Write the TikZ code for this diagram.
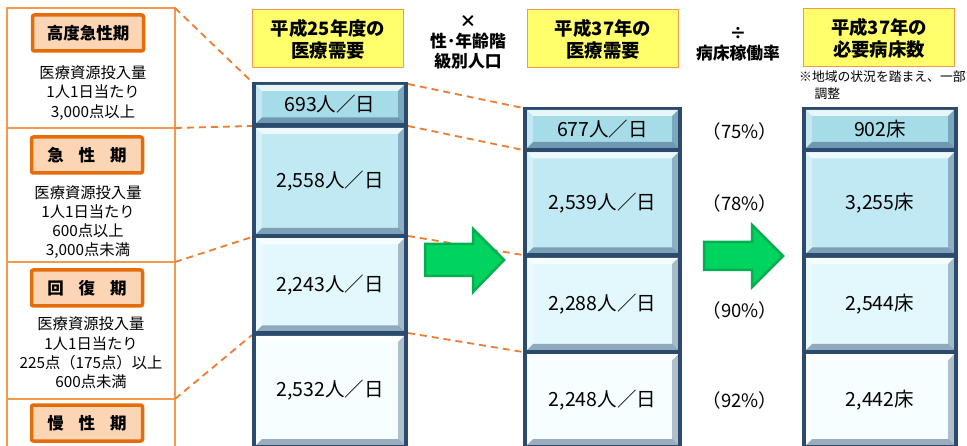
\documentclass[tikz,border=0pt]{standalone}
\usepackage{fontspec}
\setmainfont{Noto Sans CJK JP}
\definecolor{navy}{HTML}{2C4A6E}
\definecolor{orline}{HTML}{F39A4E}
\definecolor{ordash}{HTML}{ED7D31}
\definecolor{lbfill}{HTML}{FCD5B4}
\definecolor{lbedge}{HTML}{E46C0A}
\definecolor{hdfill}{HTML}{FFFF6B}
\definecolor{cA}{HTML}{A6DBE8}
\definecolor{cB}{HTML}{C1E9F3}
\definecolor{cC}{HTML}{E3F8FD}
\definecolor{cD}{HTML}{F6FEFF}
\definecolor{gfill}{HTML}{00D45E}
\definecolor{gedge}{HTML}{00B050}
\newcommand\bevcell[7]{%
  \fill[#6] (#2,#3) rectangle (#4,#5);
  \fill[white,opacity=.75] (#2,#3) -- (#4,#3) -- ({#4-6},{#3+6}) -- ({#2+6},{#3+6}) -- cycle;
  \fill[white,opacity=.35] (#2,#3) -- ({#2+6},{#3+6}) -- ({#2+6},{#5-6}) -- (#2,#5) -- cycle;
  \fill[navy,opacity=.35] (#4,#3) -- ({#4-6},{#3+6}) -- ({#4-6},{#5-6}) -- (#4,#5) -- cycle;
  \fill[navy,opacity=.45] (#2,#5) -- ({#2+6},{#5-6}) -- ({#4-6},{#5-6}) -- (#4,#5) -- cycle;
  \node[celltext] (#1) at ({(#2+#4)/2},{(#3+#5)/2}) {#7};
}
\begin{document}
\begin{tikzpicture}[x=1pt,y=-1pt,
  celltext/.style={font=\fontsize{19.5}{22}\selectfont,inner sep=0pt},
  lbox/.style={draw=lbedge,line width=3.5pt,fill=lbfill,rounded corners=2pt,minimum width=111pt,minimum height=36pt,font=\fontsize{16.5}{18}\selectfont\bfseries,inner sep=0pt},
  ltext/.style={align=center,font=\fontsize{15.3}{19.3}\selectfont,inner sep=0pt},
  hbox/.style={draw=orline,line width=1pt,fill=hdfill,minimum width=151pt,minimum height=58pt,align=center,font=\fontsize{18.4}{22}\selectfont\bfseries,inner sep=0pt},
  optext/.style={align=center,font=\fontsize{16.8}{20}\selectfont\bfseries,inner sep=0pt},
  pct/.style={font=\fontsize{18.5}{20}\selectfont,inner sep=0pt},
  dline/.style={draw=ordash,line width=1.8pt,dash pattern=on 7pt off 5pt},
  garrow/.style={fill=gfill,draw=gedge,line width=2.5pt,line join=miter}]
\fill[white] (0,0) rectangle (967,446);
\useasboundingbox (0,0) rectangle (967,446);

% left panel
\draw[orline,line width=1.2pt] (7,447) -- (7,8) -- (175,8) -- (175,447);
\draw[orline,line width=1.2pt] (7,128) -- (175,128) (7,262) -- (175,262) (7,399) -- (175,399);
\coordinate (L1) at (175,8);
\coordinate (L2) at (175,128);
\coordinate (L3) at (175,262);
\coordinate (L4) at (175,399);

\node[lbox] (k1) at (88,33) {高度急性期};
\node[ltext] (t1) at (93,93) {医療資源投入量\\1人1日当たり\\3,000点以上};
\node[lbox] (k2) at (87,155) {急\hspace{0.9em}性\hspace{0.9em}期};
\node[ltext] (t2) at (88,222) {医療資源投入量\\1人1日当たり\\600点以上\\3,000点未満};
\node[lbox] (k3) at (87,288) {回\hspace{0.9em}復\hspace{0.9em}期};
\node[ltext] (t3) at (91,353) {医療資源投入量\\1人1日当たり\\225点（175点）以上\\600点未満};
\node[lbox] (k4) at (87,423) {慢\hspace{0.9em}性\hspace{0.9em}期};

% headers
\node[hbox] (h1) at (328,39) {平成25年度の\\医療需要};
\node[hbox] (h2) at (603,39) {平成37年の\\医療需要};
\node[hbox] (h3) at (879,38) {平成37年の\\必要病床数};
\node[optext] (o1) at (468,42) {×\\性･年齢階\\級別人口};
\node[optext] (o2) at (738,44) {÷\\病床稼働率};
\node[align=left,font=\fontsize{12.8}{17}\selectfont,inner sep=0pt,anchor=north west] (note) at (799,71) {※地域の状況を踏まえ、一部\\\hspace{1.2em}調整};

% dashed connectors (behind stacks)
\coordinate (A1) at (252,82);
\coordinate (A2) at (252,126);
\coordinate (A3) at (252,237);
\coordinate (A4) at (252,335);
\coordinate (B1) at (408,84);
\coordinate (B2) at (408,126);
\coordinate (B3) at (408,236);
\coordinate (B4) at (408,333);
\coordinate (C1) at (523,108);
\coordinate (C2) at (523,150);
\coordinate (C3) at (523,255);
\coordinate (C4) at (523,352);
\draw[dline] (L1) -- (A1);
\draw[dline] (L2) -- (A2);
\draw[dline] (L3) -- (A3);
\draw[dline] (L4) -- (A4);
\draw[dline] (B1) -- (C1);
\draw[dline] (B2) -- (C2);
\draw[dline] (B3) -- (C3);
\draw[dline] (B4) -- (C4);

% stack 1
\fill[navy] (252,82) rectangle (408,448);
\bevcell{s11}{256}{85}{404}{123.5}{cA}{693人／日}
\bevcell{s12}{256}{128}{404}{234}{cB}{2,558人／日}
\bevcell{s13}{256}{238.5}{404}{331.5}{cC}{2,243人／日}
\bevcell{s14}{256}{336}{404}{445}{cD}{2,532人／日}

% stack 2
\fill[navy] (523,107) rectangle (682,448);
\bevcell{s21}{527}{110}{678}{148}{cA}{677人／日}
\bevcell{s22}{527}{152.5}{678}{253.5}{cB}{2,539人／日}
\bevcell{s23}{527}{258}{678}{350}{cC}{2,288人／日}
\bevcell{s24}{527}{354.5}{678}{445}{cD}{2,248人／日}

% stack 3
\fill[navy] (802,107) rectangle (958,448);
\bevcell{s31}{806}{110}{954}{148}{cA}{902床}
\bevcell{s32}{806}{152.5}{954}{253.5}{cB}{3,255床}
\bevcell{s33}{806}{258}{954}{350}{cC}{2,544床}
\bevcell{s34}{806}{354.5}{954}{445}{cD}{2,442床}

% percentages
\node[pct] (p1) at (740,131) {（75\%）};
\node[pct] (p2) at (740,203) {（78\%）};
\node[pct] (p3) at (740,310) {（90\%）};
\node[pct] (p4) at (740,400) {（92\%）};

% green arrows
\draw[garrow] (425,244) -- (473,244) -- (473,229) -- (504,260) -- (473,292) -- (473,276) -- (425,276) -- cycle;
\draw[garrow] (704,242) -- (752,242) -- (752,225) -- (783,256) -- (752,287) -- (752,270) -- (704,270) -- cycle;
\end{tikzpicture}
\end{document}
